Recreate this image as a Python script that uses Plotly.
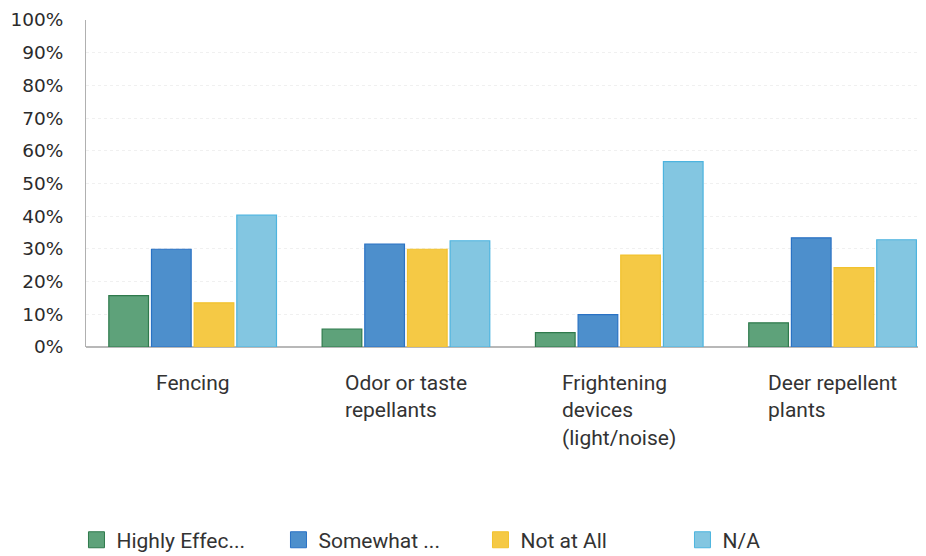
import plotly.graph_objects as go

categories = ["Fencing", "Odor or taste<br>repellants", "Frightening<br>devices<br>(light/noise)", "Deer repellent<br>plants"]
series_names = ["Highly Effec...", "Somewhat ...", "Not at All", "N/A"]
highly = [15.7, 5.5, 4.4, 7.4]
somewhat = [29.9, 31.5, 9.9, 33.4]
not_at_all = [13.5, 29.9, 28.1, 24.3]
na = [40.3, 32.5, 56.7, 32.8]
y_ticks = [0, 10, 20, 30, 40, 50, 60, 70, 80, 90, 100]
y_tick_labels = [f"{v}%" for v in y_ticks]

values = [highly, somewhat, not_at_all, na]
fills = ["#5ea27a", "#4d8fcc", "#f5c945", "#83c6e1"]
borders = ["#2f7a4c", "#2a72c4", "#f2c22e", "#4db4df"]

x_idx = list(range(len(categories)))

fig = go.Figure()
for name, vals, f, b in zip(series_names, values, fills, borders):
    fig.add_trace(go.Bar(
        x=x_idx, y=vals, name=name, showlegend=False,
        marker=dict(color=f, line=dict(color=b, width=1.2)),
        hoverinfo="y",
    ))
# legend entries with larger square swatches
for name, f, b in zip(series_names, fills, borders):
    fig.add_trace(go.Scatter(
        x=[None], y=[None], mode="markers", name=name,
        marker=dict(symbol="square", size=16, color=f, line=dict(color=b, width=1)),
    ))

for i, c in enumerate(categories):
    fig.add_annotation(
        x=i, y=0, xref="x", yref="paper", text=c, showarrow=False,
        xanchor="center", yanchor="top", align="left", yshift=-22,
        font=dict(family="Roboto", size=21, color="#333333"),
    )

fig.update_layout(
    width=918, height=548,
    margin=dict(l=78, r=0, t=12, b=209, autoexpand=False),
    paper_bgcolor="white", plot_bgcolor="white",
    barmode="group", bargap=0.2, bargroupgap=0.07,
    font=dict(family="Roboto", color="#333333"),
    xaxis=dict(range=[-0.5, 3.438], showticklabels=False, showgrid=False,
               zeroline=False, showline=False, fixedrange=True, automargin=False),
    yaxis=dict(range=[0, 100], tickvals=y_ticks, ticktext=y_tick_labels,
               ticklabelstandoff=18, automargin=False, ticklabeloverflow="allow",
               tickfont=dict(family="DejaVu Sans", size=18.5, color="#2b2b2b"),
               showgrid=True, gridcolor="#f0f0f0", griddash="dot", gridwidth=1,
               zeroline=True, zerolinecolor="#b8b8b8", zerolinewidth=1.5,
               showline=True, linecolor="#b0b0b0", linewidth=1),
    legend=dict(orientation="h", xref="container", yref="container",
                x=0.0746, y=0.029, xanchor="left", yanchor="middle",
                entrywidth=157, entrywidthmode="pixels",
                font=dict(family="Roboto", size=21, color="#333333")),
)

fig.write_html("out.html")
